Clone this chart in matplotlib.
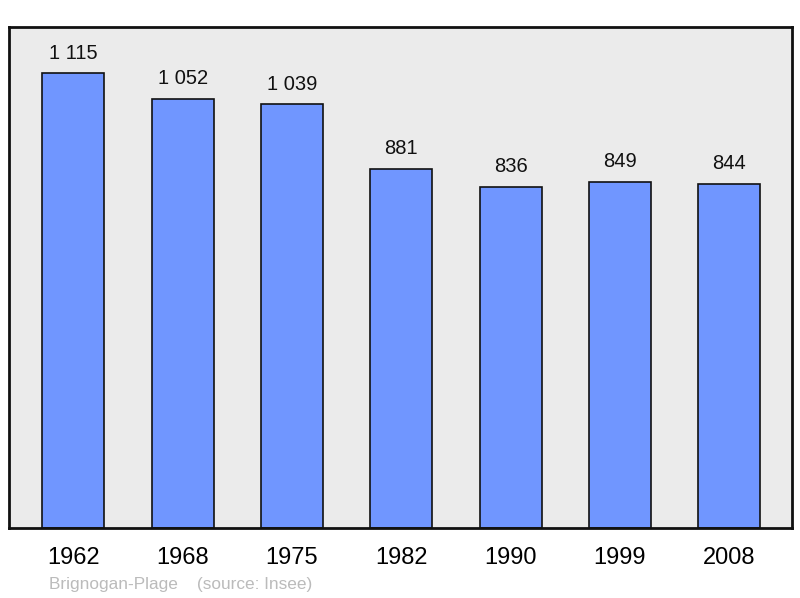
import matplotlib
matplotlib.use("Agg")
import matplotlib.pyplot as plt

years = ["1962", "1968", "1975", "1982", "1990", "1999", "2008"]
population = [1115, 1052, 1039, 881, 836, 849, 844]
labels = ["1 115", "1 052", "1 039", "881", "836", "849", "844"]

plt.rcParams['font.family'] = ['Liberation Sans', 'DejaVu Sans']

fig = plt.figure(figsize=(8, 5.98), dpi=100)
ax = fig.add_axes([8.5/800, 70/598, 783/800, 501/598])
ax.set_facecolor('#ebebeb')

x = list(range(len(years)))
ax.bar(x, population, width=0.567, color='#7096ff', edgecolor='#111111', linewidth=1.2, zorder=2)
for xi, v, lab in zip(x, population, labels):
    ax.annotate(lab, (xi, v), xytext=(0, 10.5), textcoords='offset points',
                ha='center', va='baseline', fontsize=14.5, color='#111111')

ax.set_xlim(-0.594, 6.571)
ax.set_ylim(0, 1228)
ax.set_xticks(x)
ax.set_xticklabels(years, fontsize=17)
ax.tick_params(axis='x', length=0, pad=13.5)
ax.set_yticks([])
for s in ax.spines.values():
    s.set_linewidth(2)
    s.set_color('#111111')

fig.text(49/800, 1 - 584/598, "Brignogan-Plage    (source: Insee)", fontsize=12.4,
         color='#bbbbbb', va='center', ha='left')

fig.savefig('out.png', dpi=100)
